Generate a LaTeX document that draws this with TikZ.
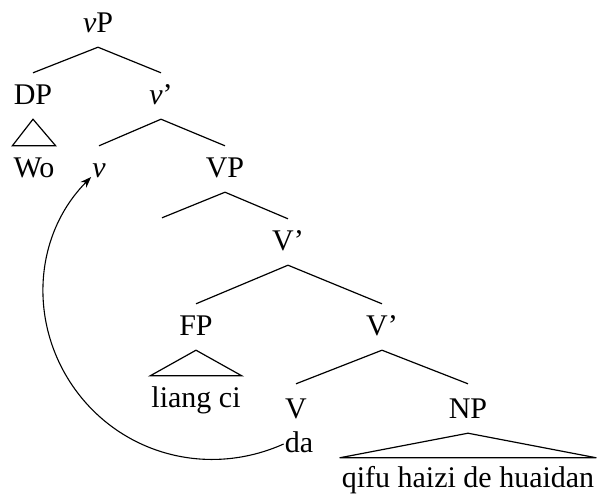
\documentclass[tikz,border=0pt]{standalone}
\usepackage{fontspec}
\setmainfont{Liberation Serif}
\usetikzlibrary{arrows.meta}
\begin{document}
\begin{tikzpicture}[x=1pt,y=-1pt,
  lab/.style={anchor=base,inner ysep=0pt,inner xsep=1pt,
    text height=31pt,text depth=15pt,
    font=\fontsize{30}{36}\selectfont},
  branch/.style={line width=1.2pt},
  roof/.style={line width=1.2pt,line join=miter},
  move/.style={line width=1.1pt,-{Stealth[length=11pt,width=8pt,inset=3.5pt]}}]
\useasboundingbox (0,0) rectangle (598,499);
% labels (placed on their baselines)
\node[lab] (vP)   at (98,32)   {\textit{v}P};
\node[lab] (DP)   at (33,104)  {DP};
\node[lab] (vbar) at (161,104) {\textit{v}'};
\node[lab] (Wo)   at (34,177)  {Wo};
\node[lab] (v)    at (99,177)  {\textit{v}};
\node[lab] (VP)   at (225,177) {VP};
\node[lab,inner xsep=0pt] (spec) at (162,249) {};
\node[lab] (Vb1)  at (288,250) {V'};
\node[lab] (FP)   at (196,335) {FP};
\node[lab] (Vb2)  at (382,335) {V'};
\node[lab] (lc)   at (196,407) {liang ci};
\node[lab,text height=34pt] (V)  at (296,418) {V};
\node[lab,text height=34pt] (NP) at (468,418) {NP};
\node[lab] (da)   at (299,452) {da};
\node[lab,text height=29pt,inner xsep=2pt] (obj) at (468,487) {qifu haizi de huaidan};
% branches
\draw[branch] (DP.north) -- (vP.south) -- (vbar.north);
\draw[branch] (v.north) -- (vbar.south) -- (VP.north);
\draw[branch] (spec.north) -- (VP.south) -- (Vb1.north);
\draw[branch] (FP.north) -- (Vb1.south) -- (Vb2.north);
\draw[branch] (V.north) -- (Vb2.south) -- (NP.north);
% roofs
\draw[roof] (DP.south) -- (Wo.north west) -- (Wo.north east) -- cycle;
\draw[roof] (FP.south) -- (lc.north west) -- (lc.north east) -- cycle;
\draw[roof] (NP.south) -- (obj.north west) -- (obj.north east) -- cycle;
% head movement of da to v
\draw[move] (da.west) .. controls (207.7,477.9) and (122,454.4) .. (75.1,389.4)
  .. controls (28.2,324.4) and (33.1,235.8) .. (v.base west);
\end{tikzpicture}
\end{document}
